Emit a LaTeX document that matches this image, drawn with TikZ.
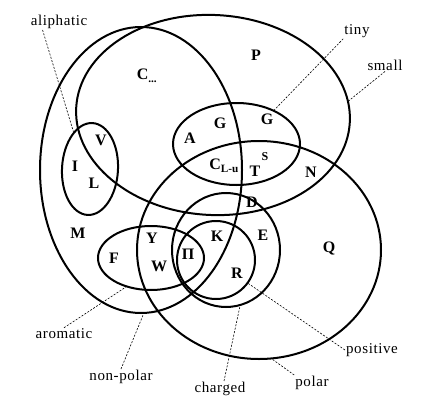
\documentclass[tikz,border=0pt]{standalone}
\usepackage{fontspec}
\setmainfont{Liberation Serif}
\usetikzlibrary{shapes.geometric,calc}

\newcommand{\acidfont}{\fontsize{16}{16}\selectfont\bfseries}
\newcommand{\setfont}{\fontsize{15}{15}\selectfont\addfontfeature{LetterSpace=4}}

\begin{document}
\begin{tikzpicture}[x=1pt, y=-1pt,
		% Node styles
		region/.style={draw, ellipse, line width=2pt, inner sep=0pt},
		acid/.style={font=\acidfont, inner sep=1pt},
		setlabel/.style={font=\setfont, inner sep=1pt},
		pointer/.style={dash pattern=on 2pt off 1.5pt, line width=0.6pt},
	]
	\useasboundingbox (0,0) rectangle (431,412);

	% Property sets
	\node[region, minimum width=202, minimum height=286] (non_polar) at (141,170) {};
	\node[region, minimum width=274, minimum height=200, rotate=-3] (small) at (213,115) {};
	\node[region, minimum width=127, minimum height=82] (tiny) at (236.5,144) {};
	\node[region, minimum width=244, minimum height=218] (polar) at (259,250) {};
	\node[region, minimum width=56, minimum height=92, rotate=-3] (aliphatic) at (90,169) {};
	\node[region, minimum width=106, minimum height=64] (aromatic) at (151,258) {};
	\node[region, minimum width=108, minimum height=114] (charged) at (226,250) {};
	\node[region, minimum width=78, minimum height=78] (positive) at (216,260) {};

	% Amino acids
	\node[acid] (P) at (256,55) {P};
	\node[acid] (C_ss) at (147,76) {C\textsubscript{...}};
	\node[acid] (A) at (190,138) {A};
	\node[acid] (G_one) at (220,123) {G};
	\node[acid] (G_two) at (267,119) {G};
	\node[acid] (C_sh) at (224,166) {C\textsubscript{L-u}};
	\node[acid, font=\fontsize{12}{12}\selectfont\bfseries] (S) at (265,157) {S};
	\node[acid] (T) at (255,171) {T};
	\node[acid] (N) at (311,172) {N};
	\node[acid] (D) at (252,202) {D};
	\node[acid] (I) at (75,166) {I};
	\node[acid] (V) at (101,140) {V};
	\node[acid] (L) at (94,183) {L};
	\node[acid] (M) at (78,233) {M};
	\node[acid] (F) at (114,258) {F};
	\node[acid] (Y) at (152,238) {Y};
	\node[acid] (W) at (159,266) {W};
	\node[acid] (H) at (188,254) {Π};
	\node[acid] (K) at (217,236) {K};
	\node[acid] (E) at (263,235) {E};
	\node[acid] (R) at (237,273) {R};
	\node[acid] (Q) at (329,248) {Q};

	% Set labels
	\node[setlabel] (aliphatic_lbl) at (59,22) {aliphatic};
	\node[setlabel] (tiny_lbl) at (357,31) {tiny};
	\node[setlabel] (small_lbl) at (385,65) {small};
	\node[setlabel] (aromatic_lbl) at (64,334) {aromatic};
	\node[setlabel] (non_polar_lbl) at (121,377) {non-polar};
	\node[setlabel] (charged_lbl) at (220,389) {charged};
	\node[setlabel] (polar_lbl) at (312,383) {polar};
	\node[setlabel] (positive_lbl) at (372,350) {positive};

	% Pointers
	\draw[pointer] ([xshift=13]aliphatic_lbl.south west) -- (aliphatic.117);
	\draw[pointer] (tiny_lbl.south west) -- (tiny.42);
	\draw[pointer] (small_lbl.south) -- (small.9);
	\draw[pointer] (aromatic_lbl.north) -- (aromatic.229);
	\draw[pointer] (non_polar_lbl.north) -- (non_polar.-89);
	\draw[pointer] ([xshift=4]charged_lbl.north) -- (charged.-76);
	\draw[pointer] (polar_lbl.north west) -- (polar.-83);
	\draw[pointer] (positive_lbl.west) -- (positive.-36);

\end{tikzpicture}
\end{document}
